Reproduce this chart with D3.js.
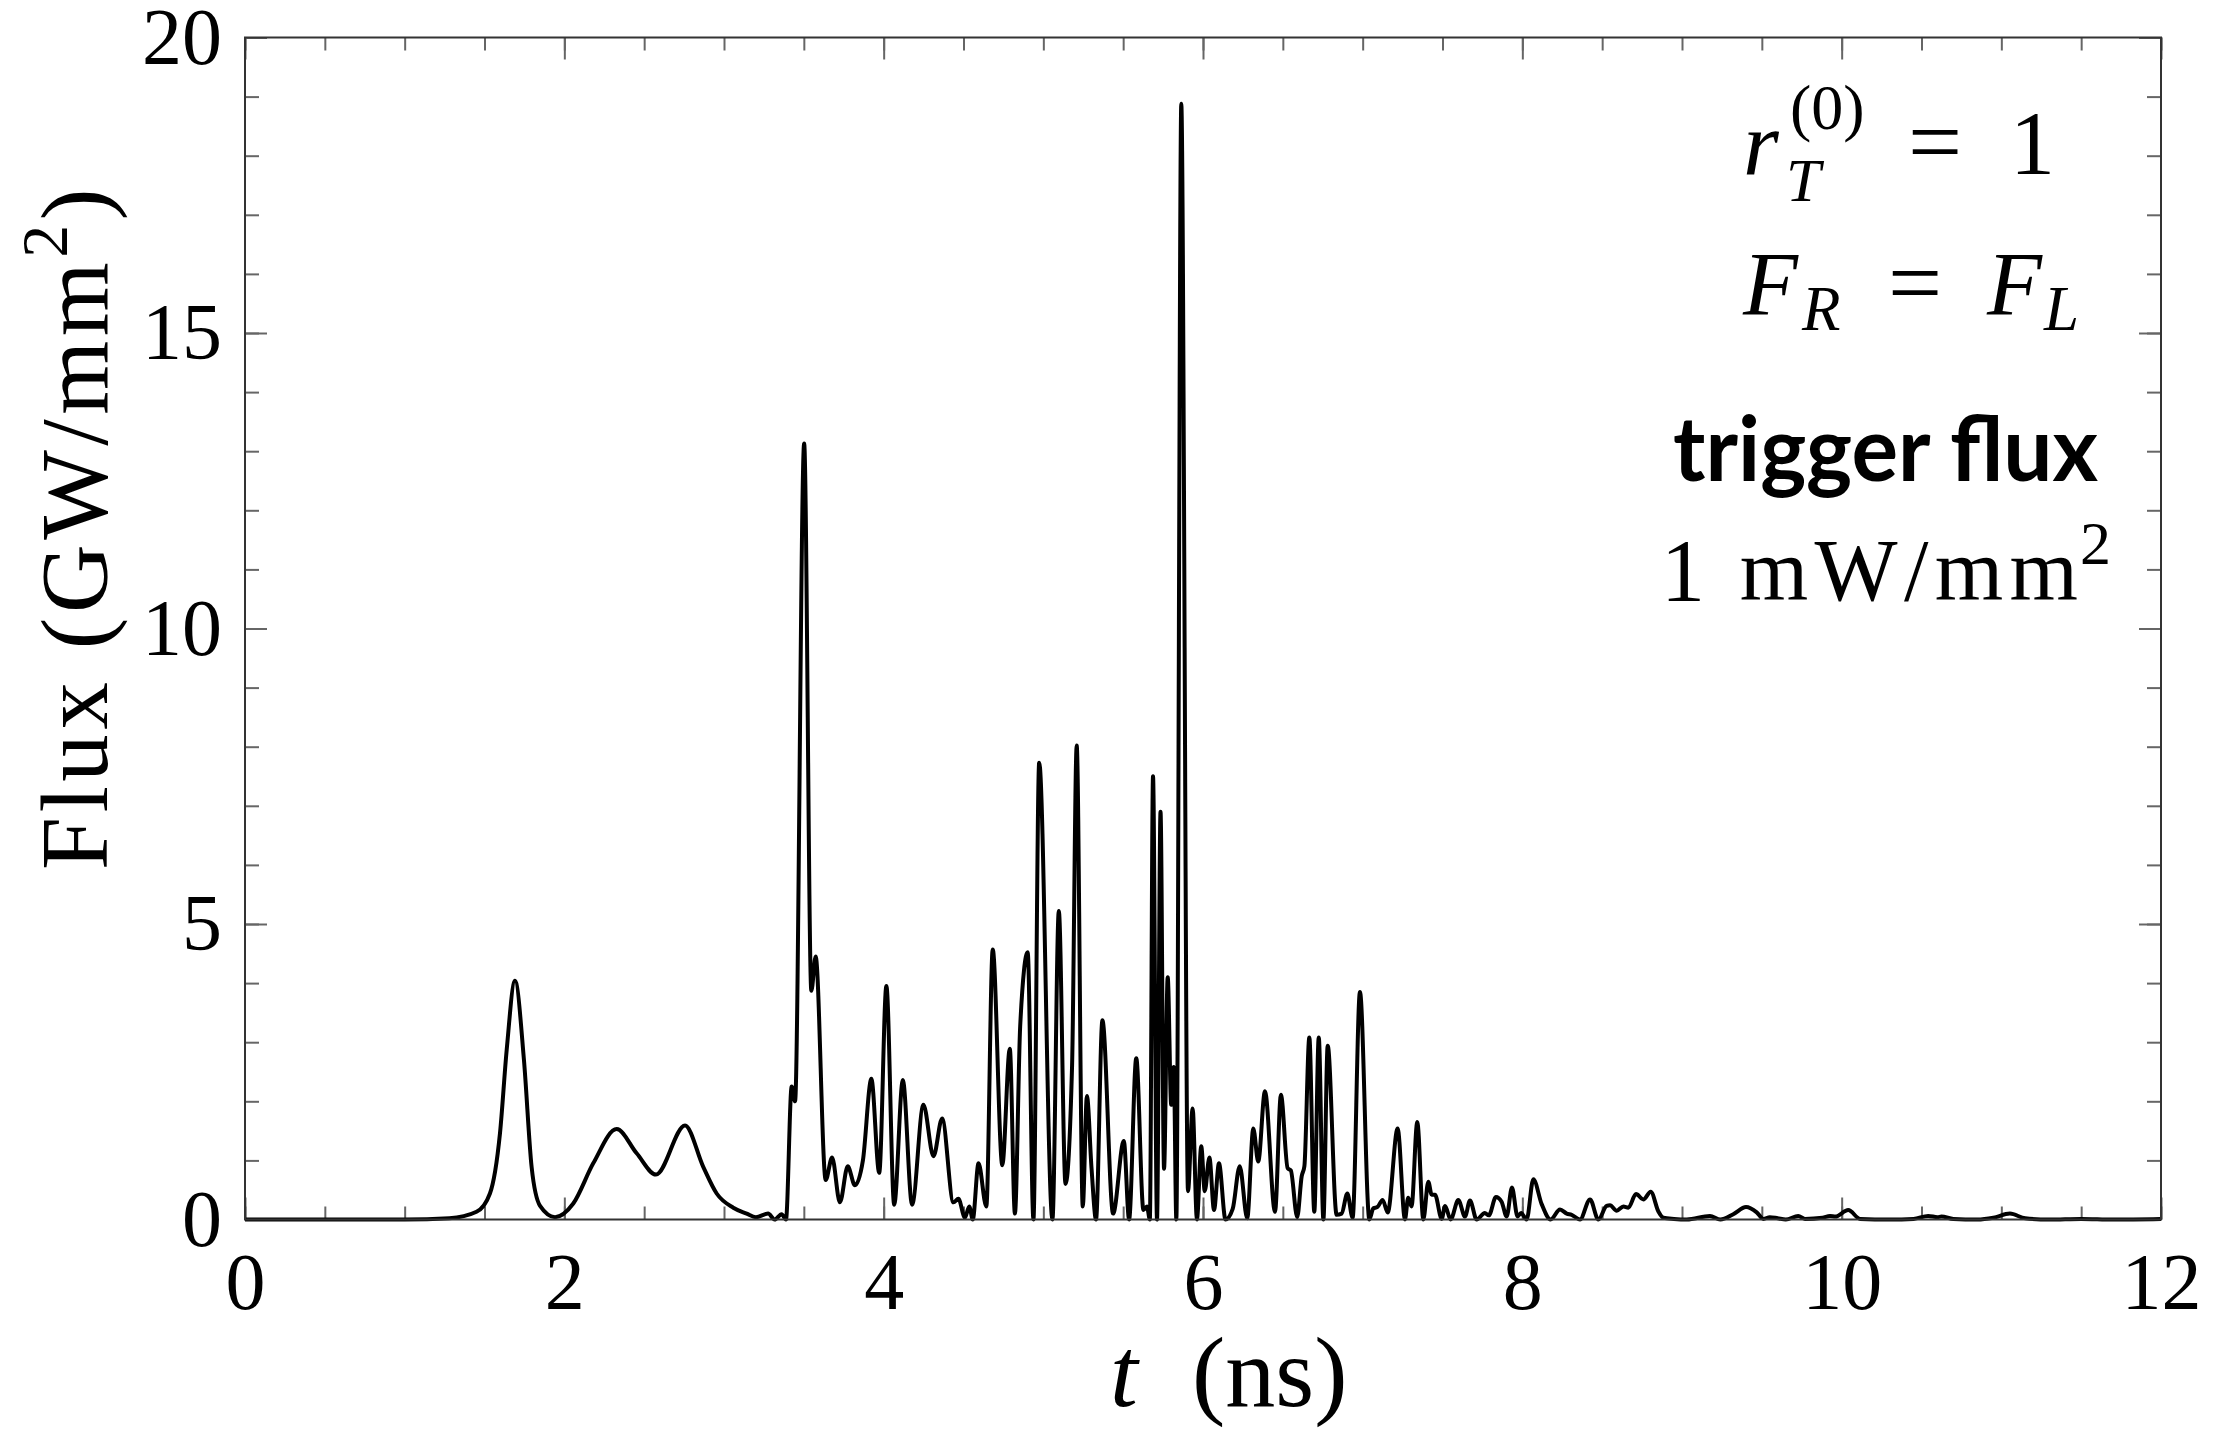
<!DOCTYPE html>
<html>
<head>
<meta charset="utf-8">
<script src="https://cdn.jsdelivr.net/npm/d3@7"></script>
<style>
  body { margin: 0; background: #fff; }
  svg text { fill: #000; }
  .tick line { stroke: #666; stroke-width: 2; }
  .domain { display: none; }
</style>
</head>
<body>
<svg id="mainCanvas" width="2222" height="1434"></svg>
<script>
var width = 2222;
var height = 1434;
var margin = { left: 245, right: 61, top: 37.5, bottom: 214.5 };

// time (ns)
var tValues = [
  0.00, 1.00, 1.28, 1.45, 1.534, 1.597, 1.639, 1.691, 1.747, 1.795, 1.848, 1.942,
  2.056, 2.181, 2.328, 2.453, 2.574, 2.756, 2.870, 2.954, 3.058, 3.142, 3.20, 3.276,
  3.317, 3.361, 3.388, 3.424, 3.445, 3.502, 3.547, 3.574, 3.637, 3.677, 3.726, 3.775,
  3.820, 3.870, 3.923, 3.972, 4.017, 4.066, 4.120, 4.178, 4.249, 4.312, 4.366, 4.437,
  4.468, 4.509, 4.536, 4.558, 4.594, 4.643, 4.683, 4.743, 4.790, 4.822, 4.855, 4.902,
  4.938, 4.974, 5.057, 5.097, 5.139, 5.180, 5.209, 5.247, 5.273, 5.302, 5.330, 5.370,
  5.437, 5.504, 5.537, 5.582, 5.627, 5.649, 5.667, 5.687, 5.712, 5.734, 5.756, 5.779,
  5.801, 5.817, 5.833, 5.864, 5.906, 5.935, 5.962, 5.989, 6.011, 6.040, 6.069, 6.100,
  6.141, 6.186, 6.230, 6.277, 6.315, 6.346, 6.388, 6.451, 6.488, 6.530, 6.550, 6.590,
  6.618, 6.635, 6.666, 6.697, 6.725, 6.754, 6.781, 6.837, 6.868, 6.904, 6.937, 6.983,
  7.042, 7.067, 7.092, 7.125, 7.157, 7.219, 7.265, 7.285, 7.306, 7.342, 7.380, 7.411,
  7.432, 7.453, 7.495, 7.516, 7.551, 7.599, 7.641, 7.672, 7.714, 7.765, 7.790, 7.835,
  7.870, 7.902, 7.935, 7.970, 7.992, 8.027, 8.069, 8.121, 8.177, 8.236, 8.278, 8.309,
  8.361, 8.424, 8.476, 8.528, 8.549, 8.591, 8.633, 8.664, 8.712, 8.758, 8.804, 8.853,
  8.883, 8.95, 9.03, 9.175, 9.24, 9.321, 9.401, 9.468, 9.51, 9.55, 9.60, 9.65,
  9.728, 9.77, 9.88, 9.927, 9.96, 10.041, 10.116, 10.30, 10.45, 10.542, 10.60, 10.625,
  10.70, 10.85, 10.95, 11.054, 11.15, 11.30, 11.50, 11.70, 12.00
];

// flux (GW/mm^2)
var fluxValues = [
  0.00, 0.00, 0.02, 0.13, 0.44, 1.46, 2.87, 4.04, 2.70, 0.89, 0.23, 0.04,
  0.27, 0.95, 1.53, 1.12, 0.76, 1.59, 0.89, 0.44, 0.20, 0.10, 0.04, 0.10,
  0.00, 0.09, 0.00, 2.25, 2.00, 13.13, 3.87, 4.45, 0.67, 1.05, 0.29, 0.90,
  0.58, 1.00, 2.38, 0.79, 3.95, 0.25, 2.36, 0.25, 1.94, 1.07, 1.71, 0.29,
  0.35, 0.03, 0.22, 0.00, 0.95, 0.22, 4.57, 0.92, 2.89, 0.10, 3.27, 4.52,
  0.00, 7.73, 0.00, 5.22, 0.60, 2.60, 8.02, 0.22, 2.09, 0.86, 0.00, 3.37,
  0.10, 1.33, 0.00, 2.73, 0.16, 0.22, 0.00, 7.50, 0.00, 6.90, 0.86, 4.10,
  1.94, 2.58, 0.00, 18.88, 0.48, 1.88, 0.00, 1.24, 0.48, 1.05, 0.16, 0.95,
  0.00, 0.18, 0.90, 0.02, 1.54, 0.98, 2.17, 0.13, 2.11, 0.87, 0.83, 0.04,
  0.73, 0.90, 3.08, 0.13, 3.08, 0.00, 2.94, 0.08, 0.10, 0.44, 0.03, 3.85,
  0.00, 0.19, 0.21, 0.33, 0.12, 1.54, 0.00, 0.37, 0.22, 1.65, 0.00, 0.64,
  0.42, 0.42, 0.01, 0.23, 0.00, 0.33, 0.05, 0.32, 0.00, 0.11, 0.07, 0.38,
  0.30, 0.05, 0.54, 0.05, 0.11, 0.00, 0.68, 0.26, 0.00, 0.17, 0.10, 0.08,
  0.00, 0.34, 0.00, 0.23, 0.24, 0.15, 0.22, 0.20, 0.43, 0.34, 0.47, 0.13,
  0.03, 0.01, 0.00, 0.06, 0.00, 0.09, 0.21, 0.12, 0.01, 0.04, 0.02, 0.00,
  0.06, 0.01, 0.03, 0.06, 0.05, 0.16, 0.01, 0.00, 0.01, 0.06, 0.04, 0.05,
  0.01, 0.00, 0.03, 0.10, 0.02, 0.00, 0.01, 0.00, 0.01
];

var xMajorTicks = [0, 2, 4, 6, 8, 10, 12];
var xMinorTicks = d3.range(0, 12.001, 0.5);
var yMajorTicks = [0, 5, 10, 15, 20];
var yMinorTicks = d3.range(0, 20.001, 1);

var points = tValues.map(function(t, i) {
    return { t: t, flux: fluxValues[i] };
});

var x = d3.scaleLinear()
    .domain([0, 12])
    .range([margin.left, width - margin.right]);

var y = d3.scaleLinear()
    .domain([0, 20])
    .range([height - margin.bottom, margin.top]);

var mainSvg = d3.select('#mainCanvas');
var serif = '"Liberation Serif", "DejaVu Serif", serif';

// ticks, inward on all four sides
var bottom = height - margin.bottom;
var right = width - margin.right;

mainSvg.append('g')
    .attr('transform', 'translate(0,' + bottom + ')')
    .call(d3.axisBottom(x).tickValues(xMinorTicks).tickSize(-13).tickFormat(''));
mainSvg.append('g')
    .attr('transform', 'translate(0,' + bottom + ')')
    .call(d3.axisBottom(x).tickValues(xMajorTicks).tickSize(-22).tickPadding(33)
        .tickFormat(d3.format('d')))
    .selectAll('text')
    .attr('font-size', 80)
    .attr('font-family', serif);

mainSvg.append('g')
    .attr('transform', 'translate(0,' + margin.top + ')')
    .call(d3.axisTop(x).tickValues(xMinorTicks).tickSize(-13).tickFormat(''));
mainSvg.append('g')
    .attr('transform', 'translate(0,' + margin.top + ')')
    .call(d3.axisTop(x).tickValues(xMajorTicks).tickSize(-22).tickFormat(''));

mainSvg.append('g')
    .attr('transform', 'translate(' + margin.left + ',0)')
    .call(d3.axisLeft(y).tickValues(yMinorTicks).tickSize(-14).tickFormat(''));
mainSvg.append('g')
    .attr('transform', 'translate(' + margin.left + ',0)')
    .call(d3.axisLeft(y).tickValues(yMajorTicks).tickSize(-22).tickPadding(23)
        .tickFormat(d3.format('d')))
    .selectAll('text')
    .attr('font-size', 80)
    .attr('font-family', serif);

mainSvg.append('g')
    .attr('transform', 'translate(' + right + ',0)')
    .call(d3.axisRight(y).tickValues(yMinorTicks).tickSize(-14).tickFormat(''));
mainSvg.append('g')
    .attr('transform', 'translate(' + right + ',0)')
    .call(d3.axisRight(y).tickValues(yMajorTicks).tickSize(-22).tickFormat(''));

// the flux curve
var line = d3.line()
    .x(function(d) { return x(d.t); })
    .y(function(d) { return y(d.flux); })
    .curve(d3.curveMonotoneX);

mainSvg.append('path')
    .datum(points)
    .attr('d', line)
    .attr('fill', 'none')
    .attr('stroke', '#000')
    .attr('stroke-width', 4)
    .attr('stroke-linejoin', 'round');

// frame
mainSvg.append('rect')
    .attr('x', margin.left)
    .attr('y', margin.top)
    .attr('width', right - margin.left)
    .attr('height', bottom - margin.top)
    .attr('fill', 'none')
    .attr('stroke', '#333')
    .attr('stroke-width', 2);

// axis labels
var yLabel = mainSvg.append('text')
    .attr('transform', 'translate(107,870) rotate(-90)')
    .attr('font-family', serif)
    .attr('font-size', 95);
yLabel.append('tspan').text('Flux (GW/mm');
yLabel.append('tspan').attr('font-size', 66).attr('dy', -40).text('2');
yLabel.append('tspan').attr('dy', 40).text(')');
var yLen = yLabel.node().getComputedTextLength();
yLabel.attr('letter-spacing', (686 - yLen) / 13);

mainSvg.append('text')
    .attr('x', 1110).attr('y', 1406)
    .attr('font-family', serif).attr('font-style', 'italic')
    .attr('font-size', 100)
    .text('t');
mainSvg.append('text')
    .attr('x', 1192).attr('y', 1406)
    .attr('font-family', serif)
    .attr('font-size', 100)
    .text('(ns)');

// annotations
var notes = [
    { text: 'r', x: 1743, y: 174, size: 92, italic: true },
    { text: '(0)', x: 1790, y: 129, size: 64, italic: false },
    { text: 'T', x: 1786, y: 201, size: 62, italic: true },
    { text: '=', x: 1908, y: 174, size: 96, italic: false },
    { text: '1', x: 2010, y: 174, size: 90, italic: false },
    { text: 'F', x: 1743, y: 315, size: 90, italic: true },
    { text: 'R', x: 1802, y: 330, size: 63, italic: true },
    { text: '=', x: 1888, y: 315, size: 96, italic: false },
    { text: 'F', x: 1987, y: 315, size: 90, italic: true },
    { text: 'L', x: 2044, y: 330, size: 63, italic: true },
    { text: '2', x: 2080, y: 564, size: 62, italic: false }
];

mainSvg.selectAll('.note')
    .data(notes)
    .enter()
    .append('text')
    .attr('class', 'note')
    .attr('x', function(d) { return d.x; })
    .attr('y', function(d) { return d.y; })
    .attr('font-family', serif)
    .attr('font-size', function(d) { return d.size; })
    .attr('font-style', function(d) { return d.italic ? 'italic' : 'normal'; })
    .text(function(d) { return d.text; });

mainSvg.append('text')
    .attr('x', 1661).attr('y', 600)
    .attr('font-family', serif)
    .attr('font-size', 88)
    .attr('textLength', 417)
    .attr('lengthAdjust', 'spacing')
    .text('1 mW/mm');

mainSvg.append('text')
    .attr('x', 1673).attr('y', 481)
    .attr('font-family', 'Lato, "Open Sans", sans-serif')
    .attr('font-weight', 'bold')
    .attr('font-size', 90)
    .attr('textLength', 425)
    .attr('lengthAdjust', 'spacingAndGlyphs')
    .text('trigger flux');
</script>
</body>
</html>
